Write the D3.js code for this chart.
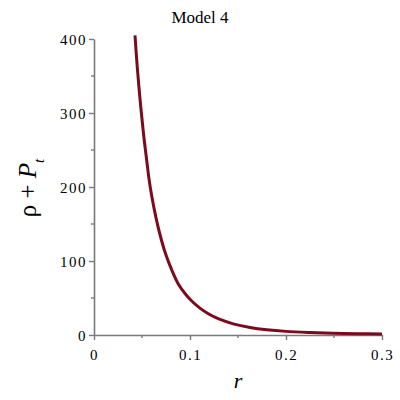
<!DOCTYPE html>
<html><head><meta charset="utf-8">
<script src="https://cdn.jsdelivr.net/npm/d3@7"></script>
<style>body{margin:0;background:#fff}svg{display:block}</style>
</head><body>
<script>
const rValues = [0.0427, 0.045, 0.048, 0.0514, 0.055, 0.0573, 0.06, 0.065, 0.0705, 0.075, 0.08, 0.0878, 0.095, 0.101, 0.11, 0.12, 0.13, 0.145, 0.1625, 0.18, 0.2, 0.225, 0.25, 0.275, 0.3];
const rhoPt   = [405, 363, 318, 274, 235, 211, 189, 156, 127, 108, 91, 69, 55.8, 47, 36.7, 28, 21.7, 15.1, 10.2, 7.1, 4.9, 3.4, 2.4, 1.8, 1.4];
const xTicks = [0, 0.1, 0.2, 0.3];
const xTickLabels = ["0", "0.1", "0.2", "0.3"];
const xMinor = [0.05, 0.15, 0.25];
const yTicks = [0, 100, 200, 300, 400];
const yMinor = [50, 150, 250, 350];
const title = "Model 4";

const W = 400, H = 400;
const svg = d3.select("body").append("svg").attr("width", W).attr("height", H);
const x = d3.scaleLinear().domain([0, 0.3]).range([94, 382]);
const y = d3.scaleLinear().domain([0, 400]).range([335, 39]);
const axisColor = "#7a7a7a";
const serif = "'Liberation Serif','Times New Roman',serif";

// X axis
const xAxis = svg.append("g").attr("transform", `translate(0,${y(0)})`)
  .call(d3.axisBottom(x).tickValues(xTicks).tickFormat((d,i)=>xTickLabels[i]).tickSize(5).tickSizeOuter(0));
xAxis.append("g").selectAll("line").data(xMinor).join("line")
  .attr("x1", d=>x(d)).attr("x2", d=>x(d)).attr("y1",0).attr("y2",3);
// Y axis
const yAxis = svg.append("g").attr("transform", `translate(${x(0)},0)`)
  .call(d3.axisLeft(y).tickValues(yTicks).tickSize(5).tickSizeOuter(0));
yAxis.append("g").selectAll("line").data(yMinor).join("line")
  .attr("x1", 0).attr("x2", -3).attr("y1", d=>y(d)).attr("y2", d=>y(d));

[xAxis, yAxis].forEach(g => {
  g.select(".domain").attr("stroke", axisColor).attr("stroke-width", 1.6);
  g.selectAll("line").attr("stroke", axisColor).attr("stroke-width", 1.4);
  g.selectAll("text").attr("font-family", serif).attr("font-size", 15).attr("fill", "#000")
    .attr("letter-spacing", "1.5px");
});
xAxis.selectAll(".tick text").attr("dy", "1.15em");
yAxis.selectAll(".tick text").attr("x", -7).attr("dy", "0.35em");

// curve
const data = rValues.map((r,i)=>({r, v: rhoPt[i]}));
svg.append("path").datum(data)
  .attr("fill","none").attr("stroke","#7b0a1e").attr("stroke-width",3)
  .attr("stroke-linejoin","round").attr("stroke-linecap","butt")
  .attr("d", d3.line().x(d=>x(d.r)).y(d=>y(d.v)).curve(d3.curveCatmullRom.alpha(0.5)));

// title
svg.append("text").attr("x", 200).attr("y", 23).attr("text-anchor","middle")
  .attr("font-family", serif).attr("font-size", 17).text(title);

// x label
svg.append("text").attr("x", 238).attr("y", 388).attr("text-anchor","middle")
  .attr("font-family", serif).attr("font-style","italic").attr("font-size", 22).text("r");

// y label
const yl = svg.append("text").attr("transform","translate(36,188) rotate(-90)")
  .attr("text-anchor","middle").attr("font-family", serif).attr("font-size", 25);
yl.append("tspan").text("ρ + ");
yl.append("tspan").attr("font-style","italic").text("P");
yl.append("tspan").attr("font-style","italic").attr("font-size", 15).attr("dy", 8).text("t");
</script>
</body></html>
